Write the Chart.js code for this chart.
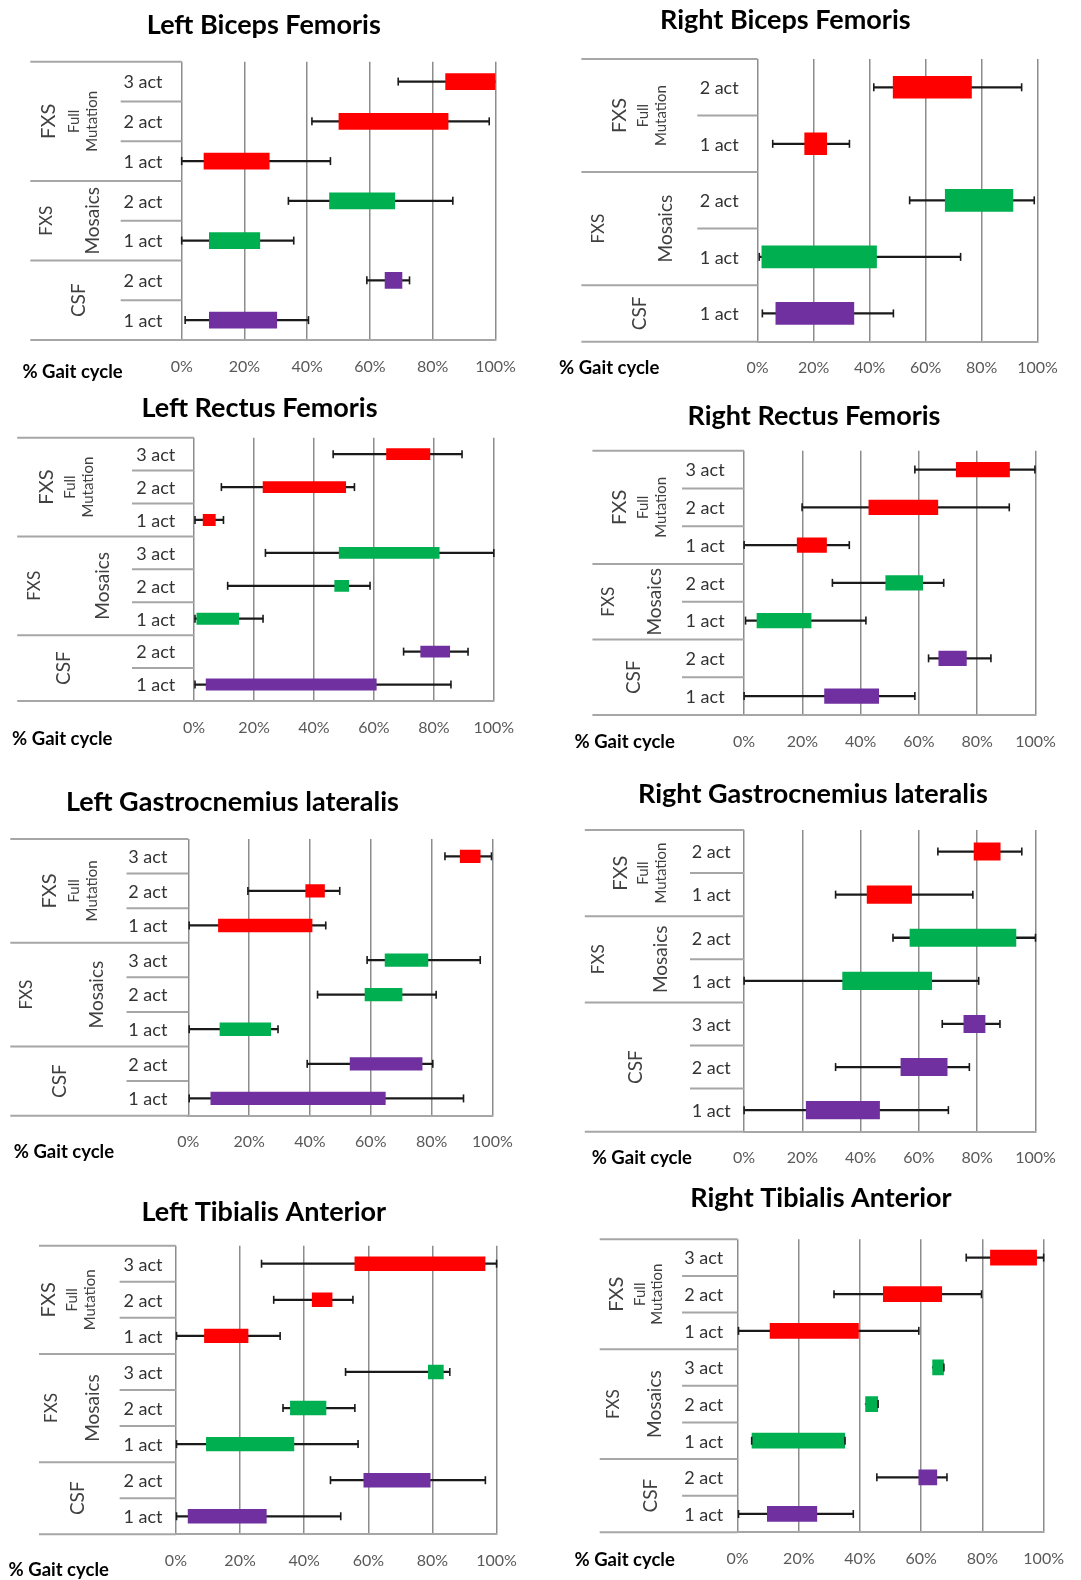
<!DOCTYPE html>
<html>
<head>
<meta charset="utf-8">
<script src="https://cdn.jsdelivr.net/npm/chart.js@4.4.1/dist/chart.umd.min.js"></script>
<style>
  body { margin: 0; background: #fff; }
  #page { position: relative; width: 1081px; height: 1580px; overflow: hidden; }
  #page canvas { position: absolute; }
</style>
</head>
<body>
<div id="page"></div>
<script>
// rows are grouped: FXS full mutation, FXS mosaics, CSF (sizes in *Groups)
const groupColors = ["#ff0000", "#00b050", "#7030a0"];

// Left Biceps Femoris
const lbfRows = ["3 act", "2 act", "1 act", "2 act", "1 act", "2 act", "1 act"];
const lbfGroups = [3, 2, 2];
const lbfBox = [[84, 100], [50, 85], [7, 28], [47, 68], [8.7, 25], [64.7, 70.3], [8.7, 30.4]];
const lbfErrLo = [69, 41.5, 0, 34, 0, 59, 1.1];
const lbfErrHi = [null, 98, 47.4, 86.4, 35.7, 72.6, 40.4];

// Right Biceps Femoris
const rbfRows = ["2 act", "1 act", "2 act", "1 act", "1 act"];
const rbfGroups = [2, 2, 1];
const rbfBox = [[48.3, 76.5], [16.7, 24.8], [66.9, 91.3], [1.4, 42.6], [6.4, 34.5]];
const rbfErrLo = [41.5, 5.4, 54.3, 0.6, 1.7];
const rbfErrHi = [94.3, 32.8, 98.8, 72.5, 48.5];

// Left Rectus Femoris
const lrfRows = ["3 act", "2 act", "1 act", "3 act", "2 act", "1 act", "2 act", "1 act"];
const lrfGroups = [3, 3, 2];
const lrfBox = [[64.1, 78.8], [22.9, 50.7], [2.9, 7.2], [48.3, 81.9], [46.8, 51.7], [0.8, 15], [75.5, 85.4], [3.9, 60.9]];
const lrfErrLo = [46.4, 9.1, 0.3, 23.8, 11.2, 0.3, 69.9, 0.3];
const lrfErrHi = [89.4, 53.5, 9.8, 100, 58.7, 23, 91.4, 85.7];

// Right Rectus Femoris
const rrfRows = ["3 act", "2 act", "1 act", "2 act", "1 act", "2 act", "1 act"];
const rrfGroups = [3, 2, 2];
const rrfBox = [[72.7, 91.2], [42.7, 66.6], [18.1, 28.4], [48.5, 61.4], [4.3, 23.1], [66.7, 76.4], [27.5, 46.3]];
const rrfErrLo = [58.6, 19.9, 0, 30.3, 0.5, 63.3, 0];
const rrfErrHi = [99.8, 91, 36.1, 68.5, 41.8, 84.7, 58.6];

// Left Gastrocnemius lateralis
const lglRows = ["3 act", "2 act", "1 act", "3 act", "2 act", "1 act", "2 act", "1 act"];
const lglGroups = [3, 3, 2];
const lglBox = [[89.3, 96.1], [38.5, 44.9], [9.8, 40.8], [64.6, 78.9], [58, 70.4], [10.3, 27.2], [53.1, 77], [7.3, 64.9]];
const lglErrLo = [84.4, 19.6, 0.3, 58.8, 42.5, 0.3, 39.1, 0.3];
const lglErrHi = [99.7, 49.8, 45.2, 96, 81.5, 29.5, 80.4, 90.5];

// Right Gastrocnemius lateralis
const rglRows = ["2 act", "1 act", "2 act", "1 act", "3 act", "2 act", "1 act"];
const rglGroups = [2, 2, 3];
const rglBox = [[78.8, 88], [42.1, 57.6], [56.8, 93.4], [33.7, 64.5], [75.3, 82.8], [53.7, 69.8], [21.2, 46.6]];
const rglErrLo = [66.5, 31.4, 51.1, 0, 68, 31.4, 0];
const rglErrHi = [95.3, 78.5, 100, 80.5, 87.8, 77.3, 70.1];

// Left Tibialis Anterior
const ltaRows = ["3 act", "2 act", "1 act", "3 act", "2 act", "1 act", "2 act", "1 act"];
const ltaGroups = [3, 3, 2];
const ltaBox = [[55.7, 96.5], [42.4, 48.8], [8.8, 22.6], [78.6, 83.5], [35.6, 46.9], [9.4, 36.9], [58.5, 79.4], [3.7, 28.3]];
const ltaErrLo = [26.7, 30.5, 0.2, 52.9, 33.4, 0.2, 48.2, 0.2];
const ltaErrHi = [100, 55.2, 32.5, 85.4, 55.8, 56.8, 96.5, 51.4];

// Right Tibialis Anterior
const rtaRows = ["3 act", "2 act", "1 act", "3 act", "2 act", "1 act", "2 act", "1 act"];
const rtaGroups = [3, 3, 2];
const rtaBox = [[82.5, 97.8], [47.5, 66.8], [10.5, 39.6], [63.6, 67.4], [41.7, 45.9], [4.6, 35.1], [59.1, 65.2], [9.6, 26]];
const rtaErrLo = [74.7, 31.5, 0.3, null, null, 4.6, 45.5, 0.3];
const rtaErrHi = [100, 79.7, 59.2, 67.4, 45.9, 35.1, 68.4, 37.8];

const xTicks = [0, 20, 40, 60, 80, 100];

// placement of each panel on the page
const panels = [
  { title: "Left Biceps Femoris", rows: lbfRows, groups: lbfGroups, box: lbfBox, lo: lbfErrLo, hi: lbfErrHi,
    cv: [0, 0, 540, 385], x0: 181.7, x1: 495.5, top: 61.7, bottom: 340, table: 30.3,
    titleAt: [263.8, 25], gaitAt: [22.4, 371.7], bar: 0.42,
    cols: [0.118, 0.289, 0.41, 0.107, 0.415, 0.323, 0.615, 0.597] },
  { title: "Right Biceps Femoris", rows: rbfRows, groups: rbfGroups, box: rbfBox, lo: rbfErrLo, hi: rbfErrHi,
    cv: [540, 0, 541, 385], x0: 757.6, x1: 1037.6, top: 59, bottom: 341.7, table: 581.4,
    titleAt: [785.3, 20.7], gaitAt: [559, 368.3], bar: 0.40,
    cols: [0.215, 0.352, 0.45, 0.098, 0.479, 0.333, 0.671, 0.658] },
  { title: "Left Rectus Femoris", rows: lrfRows, groups: lrfGroups, box: lrfBox, lo: lrfErrLo, hi: lrfErrHi,
    cv: [0, 385, 540, 385], x0: 194.1, x1: 493.8, top: 437.7, bottom: 701, table: 17.2,
    titleAt: [259.5, 408.3], gaitAt: [12.1, 739], bar: 0.36,
    cols: [0.166, 0.302, 0.40, 0.097, 0.487, 0.263, 0.673, 0.649] },
  { title: "Right Rectus Femoris", rows: rrfRows, groups: rrfGroups, box: rrfBox, lo: rrfErrLo, hi: rrfErrHi,
    cv: [540, 385, 541, 385], x0: 744.1, x1: 1035.5, top: 450.7, bottom: 715, table: 592.4,
    titleAt: [814, 416.7], gaitAt: [574.5, 741.7], bar: 0.40,
    cols: [0.182, 0.336, 0.455, 0.109, 0.411, 0.273, 0.614, 0.591] },
  { title: "Left Gastrocnemius lateralis", rows: lglRows, groups: lglGroups, box: lglBox, lo: lglErrLo, hi: lglErrHi,
    cv: [0, 770, 540, 400], x0: 188.3, x1: 492.4, top: 839, bottom: 1115.7, table: 10.3,
    titleAt: [232.4, 802.3], gaitAt: [13.8, 1151.7], bar: 0.385,
    cols: [0.223, 0.359, 0.461, 0.093, 0.488, 0.281, 0.663, 0.653] },
  { title: "Right Gastrocnemius lateralis", rows: rglRows, groups: rglGroups, box: rglBox, lo: rglErrLo, hi: rglErrHi,
    cv: [540, 770, 541, 400], x0: 744.1, x1: 1035.5, top: 830, bottom: 1131.7, table: 584.8,
    titleAt: [812.9, 794], gaitAt: [591.7, 1158.3], bar: 0.42,
    cols: [0.223, 0.368, 0.481, 0.087, 0.476, 0.32, 0.671, 0.66] },
  { title: "Left Tibialis Anterior", rows: ltaRows, groups: ltaGroups, box: ltaBox, lo: ltaErrLo, hi: ltaErrHi,
    cv: [0, 1170, 540, 410], x0: 175.9, x1: 496.6, top: 1245.7, bottom: 1534.3, table: 39,
    titleAt: [263.8, 1212.3], gaitAt: [8.6, 1570], bar: 0.40,
    cols: [0.068, 0.244, 0.375, 0.093, 0.39, 0.282, 0.617, 0.589] },
  { title: "Right Tibialis Anterior", rows: rtaRows, groups: rtaGroups, box: rtaBox, lo: rtaErrLo, hi: rtaErrHi,
    cv: [540, 1170, 541, 410], x0: 737.6, x1: 1052.1, top: 1239.3, bottom: 1532.3, table: 599.7,
    titleAt: [821, 1198.3], gaitAt: [574.5, 1560], bar: 0.43,
    cols: [0.1225, 0.2925, 0.4175, 0.0975, 0.40, 0.3725, 0.6125, 0.5975] },
];

const FONT = 'Lato, "Open Sans", sans-serif';
const AXIS_H = 40;
Chart.defaults.font.family = FONT;

// table on the left, row/group labels, title and the "% Gait cycle" caption
const tablePlugin = {
  id: "gaitTable",
  afterDraw(chart) {
    const p = chart.options.plugins.gaitTable.panel;
    const ctx = chart.ctx;
    const area = chart.chartArea;
    const yScale = chart.scales.y;
    const ox = p.cv[0], oy = p.cv[1];
    const tLeft = p.table - ox;
    const span = area.left - tLeft;
    const colX = p.cols.map(f => tLeft + f * span);
    const n = p.rows.length;
    const band = (area.bottom - area.top) / n;

    ctx.save();
    ctx.strokeStyle = "#a6a6a6";
    ctx.lineWidth = 2;
    const hline = (xa, y) => { ctx.beginPath(); ctx.moveTo(xa, y); ctx.lineTo(area.left, y); ctx.stroke(); };
    hline(tLeft, area.top);
    hline(tLeft, area.bottom);
    let start = 0;
    p.groups.forEach((size, gi) => {
      for (let k = 1; k < size; k++) hline(colX[7], area.top + (start + k) * band);
      if (gi < p.groups.length - 1) hline(tLeft, area.top + (start + size) * band);
      start += size;
    });

    // row labels
    ctx.fillStyle = "#333";
    ctx.font = "18px " + FONT;
    ctx.textAlign = "left";
    ctx.textBaseline = "middle";
    p.rows.forEach((r, i) => ctx.fillText(r, colX[6], yScale.getPixelForValue(i) + 1));

    // rotated group labels
    const groupText = [
      [["FXS", colX[0], 20], ["Full", colX[1], 15], ["Mutation", colX[2], 15]],
      [["FXS", colX[3], 17], ["Mosaics", colX[4], 19]],
      [["CSF", colX[5], 19]],
    ];
    ctx.fillStyle = "#404040";
    ctx.textAlign = "center";
    start = 0;
    p.groups.forEach((size, gi) => {
      const cy = area.top + (start + size / 2) * band;
      groupText[gi].forEach(([txt, x, fs]) => {
        ctx.save();
        ctx.translate(x, cy);
        ctx.rotate(-Math.PI / 2);
        ctx.font = fs + "px " + FONT;
        ctx.fillText(txt, 0, 0);
        ctx.restore();
      });
      start += size;
    });

    ctx.fillStyle = "#000";
    ctx.font = "bold 27px " + FONT;
    ctx.textAlign = "center";
    ctx.fillText(p.title, p.titleAt[0] - ox, p.titleAt[1] - oy);
    ctx.font = "bold 18.5px " + FONT;
    ctx.textAlign = "left";
    ctx.fillText("% Gait cycle", p.gaitAt[0] - ox, p.gaitAt[1] - oy);
    ctx.restore();
  },
};

const page = document.getElementById("page");

panels.forEach(p => {
  const [cx, cy, cw, ch] = p.cv;
  const canvas = document.createElement("canvas");
  canvas.width = cw;
  canvas.height = ch;
  canvas.style.left = cx + "px";
  canvas.style.top = cy + "px";
  page.appendChild(canvas);

  const colors = [];
  p.groups.forEach((size, gi) => { for (let k = 0; k < size; k++) colors.push(groupColors[gi]); });
  const whisker = p.box.map((b, i) => [p.lo[i] ?? b[0], p.hi[i] ?? b[1]]);

  const capStyle = {
    type: "line",
    showLine: false,
    pointStyle: "line",
    pointRotation: 90,
    pointRadius: 4,
    pointBorderColor: "#1a1a1a",
    pointBorderWidth: 1.6,
    borderColor: "#1a1a1a",
    clip: false,
    order: 0,
  };

  new Chart(canvas, {
    type: "bar",
    data: {
      labels: p.rows,
      datasets: [
        { ...capStyle, data: p.lo },
        { ...capStyle, data: p.hi },
        {
          data: p.box,
          backgroundColor: colors,
          barPercentage: p.bar,
          categoryPercentage: 1,
          grouped: false,
          order: 1,
        },
        {
          data: whisker,
          backgroundColor: "#1a1a1a",
          barThickness: 1.6,
          grouped: false,
          order: 2,
        },
      ],
    },
    options: {
      indexAxis: "y",
      responsive: false,
      animation: false,
      events: [],
      layout: {
        padding: {
          left: p.x0 - cx,
          right: cw - (p.x1 - cx),
          top: p.top - cy,
          bottom: ch - (p.bottom - cy) - AXIS_H,
        },
      },
      scales: {
        x: {
          type: "linear",
          min: 0,
          max: 100,
          afterBuildTicks: s => { s.ticks = xTicks.map(v => ({ value: v })); },
          afterFit: s => { s.height = AXIS_H; },
          ticks: {
            callback: v => v + "%",
            font: { size: 16 },
            color: "#595959",
            padding: 17,
            maxRotation: 0,
          },
          grid: { color: "#8c8c8c", lineWidth: 1.5, drawTicks: false },
          border: { color: "#a6a6a6", width: 2 },
        },
        y: { type: "category", display: false },
      },
      plugins: {
        legend: { display: false },
        tooltip: { enabled: false },
        title: { display: false },
        gaitTable: { panel: p },
      },
    },
    plugins: [tablePlugin],
  });
});
</script>
</body>
</html>
